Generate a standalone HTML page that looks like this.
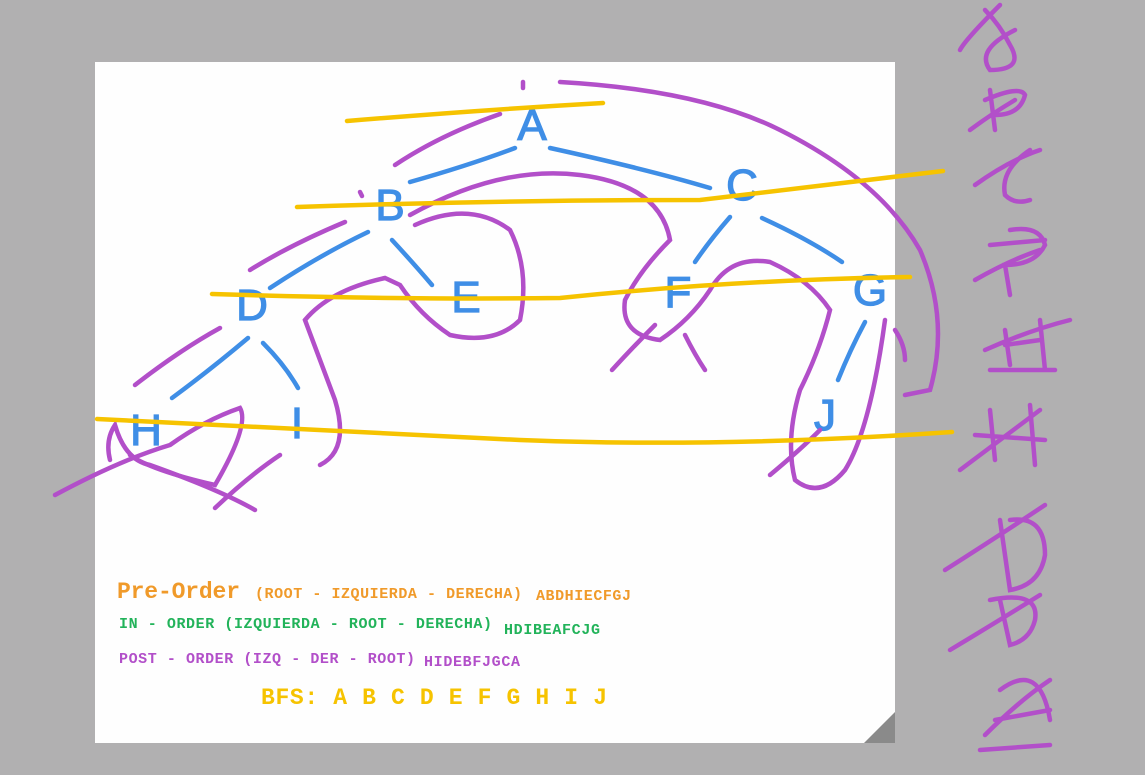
<!DOCTYPE html>
<html><head><meta charset="utf-8"><style>
html,body{margin:0;padding:0;width:1145px;height:775px;overflow:hidden;background:#b1b0b1}
svg{display:block}
text{font-family:"Liberation Sans",sans-serif}
.m{font-family:"Liberation Mono",monospace;font-weight:bold}
</style></head><body>
<svg width="1145" height="775" viewBox="0 0 1145 775">
<rect x="95" y="62" width="800" height="681" fill="#fefefe"/>
<polygon points="895,712 895,743 864,743" fill="#8a8a8a"/>
<g stroke="#3f8ee6" stroke-width="4.5" fill="none" stroke-linecap="round">
<path d="M515 148 Q470 165 410 182"/><path d="M550 148 Q650 170 710 188"/>
<path d="M368 232 Q320 255 270 288"/><path d="M392 240 Q415 265 432 285"/>
<path d="M730 217 Q710 240 695 262"/><path d="M762 218 Q810 240 842 262"/>
<path d="M248 338 Q210 370 172 398"/><path d="M263 343 Q285 365 298 388"/>
<path d="M865 322 Q850 350 838 380"/>
</g>
<g fill="#3f8ee6" stroke="#3f8ee6" stroke-width="1.2" font-size="44" text-anchor="middle">
<text x="532" y="140">A</text><text x="390" y="220">B</text><text x="742" y="200">C</text>
<text x="252" y="320">D</text><text x="466" y="312">E</text><text x="678" y="307">F</text>
<text x="870" y="305">G</text><text x="146" y="445">H</text><text x="297" y="438">I</text><text x="825" y="430">J</text>
</g>
<g stroke="#b24fc9" stroke-width="4.5" fill="none" stroke-linecap="round">
<path d="M523 82 L523 88"/><path d="M360 192 L362 196"/>
<path d="M500 114 Q440 135 395 165"/>
<path d="M560 82 Q700 90 780 130 Q880 180 920 250 Q950 320 930 390 L905 395"/>
<path d="M410 215 Q500 165 580 175 Q660 185 670 240 Q640 270 625 300 Q620 335 660 340 Q690 320 710 290 Q730 255 770 262 Q810 280 830 310 Q820 350 800 390 Q785 440 795 480 Q820 500 845 470 Q870 430 885 320"/>
<path d="M895 330 Q905 345 905 360"/>
<path d="M415 225 Q470 200 510 230 Q530 270 520 320 Q495 345 450 335 Q420 315 400 285 L385 278 Q330 290 305 320 Q320 360 335 400 Q350 450 320 465"/>
<path d="M250 270 Q290 245 345 222"/><path d="M135 385 Q180 350 220 328"/>
<path d="M110 460 Q105 440 115 425 Q125 460 150 465 Q220 490 255 510"/>
<path d="M55 495 Q120 460 170 445 Q205 420 240 408 Q250 425 215 485 Q150 470 130 455"/>
<path d="M215 508 Q250 475 280 455"/>
<path d="M612 370 Q635 345 655 325"/><path d="M685 335 Q695 355 705 370"/>
<path d="M770 475 Q800 450 820 430"/>
<path d="M1000 5 Q965 40 960 50 M985 10 Q1000 25 1010 45 Q1025 70 990 70 Q975 50 1015 30"/>
<path d="M990 90 L995 130 M985 100 Q1020 85 1025 95 Q1020 115 995 115 M970 130 Q990 115 1015 100"/>
<path d="M1030 150 Q1000 170 1005 195 Q1015 205 1030 200 M975 185 Q1010 160 1040 150"/>
<path d="M1010 230 Q1040 225 1045 245 Q1035 265 1005 265 L1010 295 M990 245 L1045 240 M975 280 Q1010 260 1040 250"/>
<path d="M1005 330 L1010 365 M1040 320 L1045 370 M1005 345 L1040 340 M990 370 L1055 370 M985 350 Q1030 330 1070 320"/>
<path d="M990 410 L995 460 M1030 405 L1035 465 M975 435 L1045 440 M960 470 Q1000 440 1040 410"/>
<path d="M1010 520 Q1045 515 1045 555 Q1040 585 1010 590 L1000 520 M945 570 Q1000 535 1045 505"/>
<path d="M990 600 Q1040 590 1035 620 Q1030 640 1010 645 L1000 600 M950 650 Q1000 620 1040 595"/>
<path d="M1000 690 Q1040 660 1050 720 M995 720 L1050 710 M985 735 Q1020 700 1050 680 M980 750 L1050 745"/>
</g>
<g stroke="#f6c300" stroke-width="4.5" fill="none" stroke-linecap="round">
<path d="M347 121 Q480 110 603 103"/>
<path d="M297 207 Q500 200 700 200 Q830 185 943 171"/>
<path d="M212 294 Q400 300 560 298 Q730 280 910 277"/>
<path d="M97 419 Q300 430 520 440 Q720 448 952 432"/>
</g>
<text class="m" x="117" y="598" font-size="23" fill="#f09a2a" textLength="123">Pre-Order</text>
<text class="m" x="255" y="598" font-size="15" fill="#f09a2a" textLength="267">(ROOT - IZQUIERDA - DERECHA)</text>
<text class="m" x="536" y="600" font-size="15" fill="#f09a2a" textLength="95">ABDHIECFGJ</text>
<text class="m" x="119" y="628" font-size="15" fill="#22b35a" textLength="373">IN - ORDER (IZQUIERDA - ROOT - DERECHA)</text>
<text class="m" x="504" y="634" font-size="15" fill="#22b35a" textLength="96">HDIBEAFCJG</text>
<text class="m" x="119" y="663" font-size="15" fill="#b24fc9" textLength="296">POST - ORDER (IZQ - DER - ROOT)</text>
<text class="m" x="424" y="666" font-size="15" fill="#b24fc9" textLength="96">HIDEBFJGCA</text>
<text class="m" x="261" y="704" font-size="23" fill="#f6c300" textLength="346">BFS: A B C D E F G H I J</text>
</svg>
</body></html>
